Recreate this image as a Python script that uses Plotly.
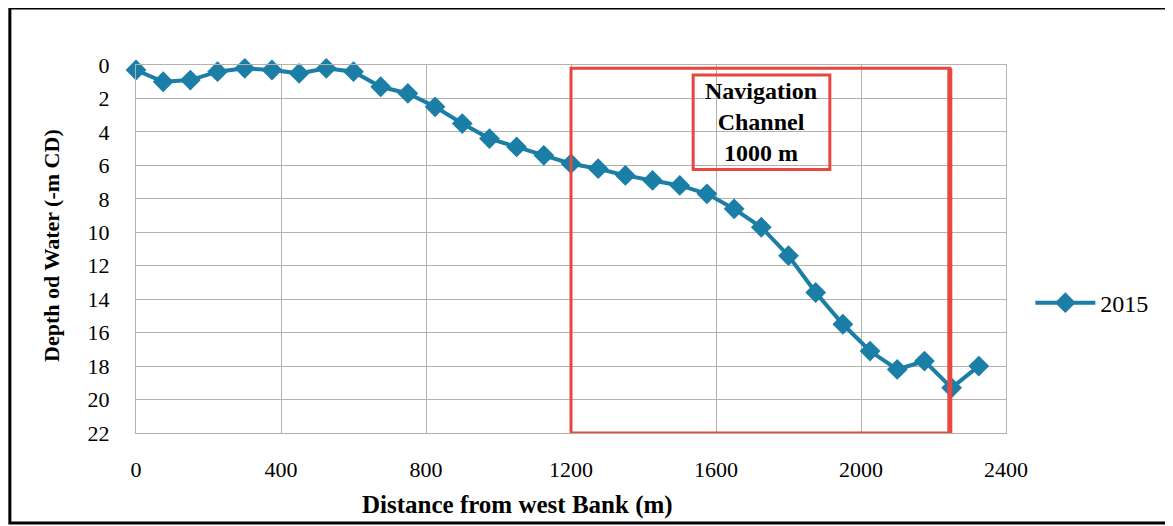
import plotly.graph_objects as go

# distance from the west bank (m) and water depth (-m CD), 2015 survey
distance = [0, 75, 150, 225, 300, 375, 450, 525, 600, 675, 750, 825, 900, 975, 1050, 1125,
            1200, 1275, 1350, 1425, 1500, 1575, 1650, 1725, 1800, 1875, 1950, 2025, 2100, 2175,
            2250, 2325]
depth_2015 = [0.3, 1.0, 0.9, 0.4, 0.2, 0.3, 0.5, 0.2, 0.4, 1.3, 1.7, 2.5, 3.5, 4.4, 4.9, 5.4,
              5.9, 6.2, 6.6, 6.9, 7.2, 7.7, 8.6, 9.7, 11.4, 13.6, 15.5, 17.1, 18.2, 17.7,
              19.3, 18.0]

x_ticks = [0, 400, 800, 1200, 1600, 2000, 2400]
y_ticks = [0, 2, 4, 6, 8, 10, 12, 14, 16, 18, 20, 22]

channel_start, channel_end = 1200, 2245

blue = '#1a7ea6'
red = '#e8473f'
grid = '#b4b0ab'
serif = 'Liberation Serif, Times New Roman, serif'

fig = go.Figure()
fig.add_trace(go.Scatter(x=distance, y=depth_2015, name='2015', mode='lines+markers',
                         line=dict(color=blue, width=4),
                         marker=dict(symbol='diamond', size=16, color=blue),
                         cliponaxis=False))

# navigation channel frame
fig.add_shape(type='rect', x0=channel_start, x1=channel_end, y0=0.2, y1=22,
              line=dict(color=red, width=3))
fig.add_shape(type='line', x0=channel_end, x1=channel_end, y0=0.2, y1=22,
              line=dict(color=red, width=5))
fig.add_shape(type='rect', x0=1537, x1=1914, y0=0.6, y1=6.25, line=dict(color=red, width=3))
fig.add_annotation(x=1725, y=3.4, text='<b>Navigation<br>Channel<br>1000 m</b>', showarrow=False,
                   font=dict(family=serif, size=24, color='black'))

# axis titles placed like the original
fig.add_annotation(xref='paper', yref='paper', x=0.438, y=-0.196, xanchor='center', yanchor='middle',
                   text='<b>Distance from west Bank (m)</b>',
                   showarrow=False, font=dict(family=serif, size=25, color='black'))
fig.add_annotation(xref='paper', yref='paper', x=-0.0966, y=0.511, xanchor='center', yanchor='middle',
                   text='<b>Depth od Water (-m CD)</b>',
                   textangle=-90, showarrow=False, font=dict(family=serif, size=22, color='black'))

# outer frame
fig.add_shape(type='rect', xref='paper', yref='paper', x0=-0.145, x1=1.1874, y0=-0.2446, y1=1.1549,
              line=dict(color='black', width=3))

fig.update_xaxes(range=[0, 2400], tickvals=x_ticks, showgrid=True, gridcolor=grid, gridwidth=1,
                 showline=True, linecolor=grid, mirror=True, zeroline=False, ticks='',
                 ticklabelstandoff=17, tickfont=dict(family=serif, size=22, color='black'))
fig.update_yaxes(range=[22, 0], tickvals=y_ticks, showgrid=True, gridcolor=grid, gridwidth=1,
                 showline=True, linecolor=grid, mirror=True, zeroline=False, ticks='',
                 ticklabelstandoff=21, tickfont=dict(family=serif, size=22, color='black'))

# page body adds 8 px, so the figure is 8 px smaller on each axis
fig.update_layout(width=1165, height=518, margin=dict(l=128, r=167, t=57, b=93),
                  paper_bgcolor='white', plot_bgcolor='white', showlegend=True,
                  legend=dict(x=1.028, y=0.353, yanchor='middle', xanchor='left', itemwidth=60,
                              font=dict(family=serif, size=24, color='black')))

fig.write_html('out.html')
